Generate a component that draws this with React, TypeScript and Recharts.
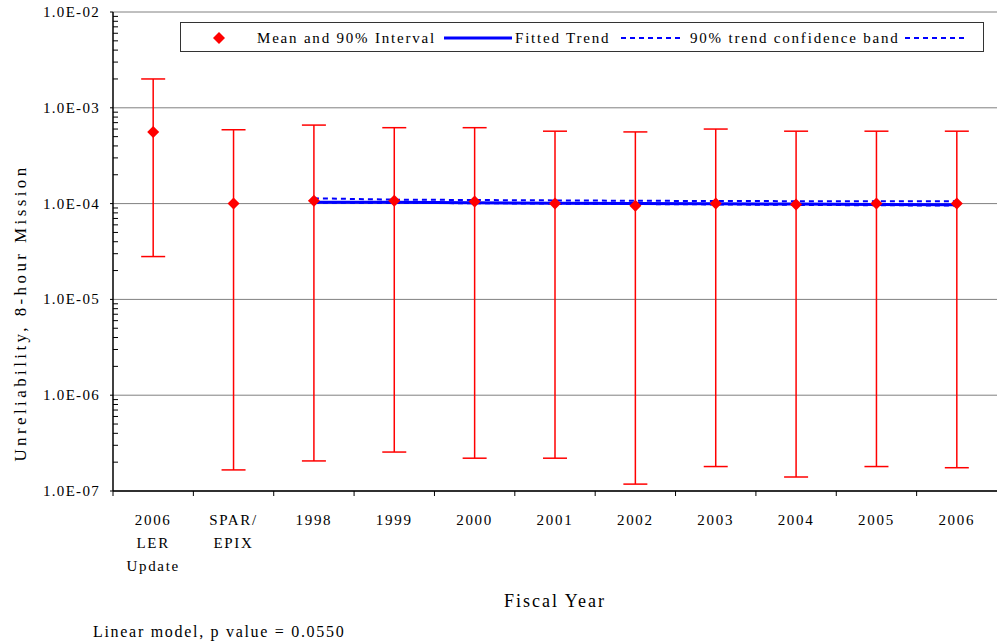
import React from 'react'
import {
  ComposedChart,
  Line,
  ErrorBar,
  XAxis,
  YAxis,
  CartesianGrid,
  Label,
} from 'recharts'

const categories = [
  '2006\nLER\nUpdate',
  'SPAR/\nEPIX',
  '1998',
  '1999',
  '2000',
  '2001',
  '2002',
  '2003',
  '2004',
  '2005',
  '2006',
]
const means = [5.6e-4, 1.0e-4, 1.07e-4, 1.07e-4, 1.05e-4, 1.0e-4, 9.5e-5, 1.0e-4, 9.8e-5, 1.0e-4, 1.0e-4]
const lower = [2.8e-5, 1.66e-7, 2.06e-7, 2.55e-7, 2.2e-7, 2.2e-7, 1.18e-7, 1.8e-7, 1.4e-7, 1.8e-7, 1.75e-7]
const upper = [2.0e-3, 5.9e-4, 6.6e-4, 6.2e-4, 6.2e-4, 5.7e-4, 5.6e-4, 6.0e-4, 5.7e-4, 5.7e-4, 5.7e-4]
const trend = [null, null, 1.035e-4, 1.03e-4, 1.02e-4, 1.01e-4, 1.0e-4, 9.95e-5, 9.9e-5, 9.8e-5, 9.75e-5]
const bandHigh = [null, null, 1.135e-4, 1.1e-4, 1.09e-4, 1.08e-4, 1.07e-4, 1.065e-4, 1.06e-4, 1.06e-4, 1.055e-4]
const bandLow = [null, null, 1.02e-4, 1.015e-4, 1.01e-4, 1.0e-4, 9.9e-5, 9.8e-5, 9.7e-5, 9.6e-5, 9.55e-5]

const yTicks = [1e-7, 1e-6, 1e-5, 1e-4, 1e-3, 1e-2]
const yTickLabels = ['1.0E-07', '1.0E-06', '1.0E-05', '1.0E-04', '1.0E-03', '1.0E-02']
const decades = [1e-7, 1e-6, 1e-5, 1e-4, 1e-3]
const minorSteps = [2, 3, 4, 5, 6, 7, 8, 9]
const minorTicks = decades.flatMap((d) => minorSteps.map((m) => m * d))
const allYTicks = [...yTicks, ...minorTicks]

const data = categories.map((label, i) => ({
  label,
  mean: means[i],
  err: [means[i] - lower[i], upper[i] - means[i]],
  trend: trend[i],
  bandHigh: bandHigh[i],
  bandLow: bandLow[i],
}))

const FONT = '"Liberation Serif", "Times New Roman", serif'
const RED = '#ff0000'
const BLUE = '#0000ff'

function Diamond(props: any) {
  const { cx, cy } = props
  if (cx == null || cy == null) return null
  const r = 6
  return (
    <polygon
      points={`${cx},${cy - r} ${cx + r},${cy} ${cx},${cy + r} ${cx - r},${cy}`}
      fill={RED}
    />
  )
}

function CategoryTick(props: any) {
  const { x, y, payload } = props
  const half = payload?.offset ?? 40
  const lines = String(payload.value).split('\n')
  return (
    <g>
      <line x1={x - half} x2={x - half} y1={y} y2={y + 5} stroke="#000" />
      <text
        x={x}
        y={y + 34}
        textAnchor="middle"
        fontFamily={FONT}
        fontSize={15}
        fill="#000"
        style={{ letterSpacing: 1.7 }}
      >
        {lines.map((ln, i) => (
          <tspan key={i} x={x} dy={i === 0 ? 0 : 23}>
            {ln}
          </tspan>
        ))}
      </text>
    </g>
  )
}

function ValueTick(props: any) {
  const { x, y, payload } = props
  const idx = yTicks.indexOf(payload.value)
  if (idx < 0) {
    return <line x1={x} x2={x + 5} y1={y} y2={y} stroke="#000" />
  }
  return (
    <g>
      <line x1={x - 3} x2={x} y1={y} y2={y} stroke="#000" />
      <text
        x={x - 13}
        y={y}
        dy={5}
        textAnchor="end"
        fontFamily={FONT}
        fontSize={15}
        fill="#000"
        style={{ letterSpacing: 1.3 }}
      >
        {yTickLabels[idx]}
      </text>
    </g>
  )
}

function LegendBox() {
  const text: React.CSSProperties = {
    position: 'absolute',
    top: 6,
    fontFamily: FONT,
    fontSize: 15,
    letterSpacing: 1.8,
    whiteSpace: 'nowrap',
    lineHeight: '18px',
  }
  return (
    <div
      style={{
        position: 'absolute',
        left: 180,
        top: 22,
        width: 804,
        height: 30,
        border: '1px solid #333',
        background: '#fff',
        boxSizing: 'border-box',
      }}
    >
      <svg width={804} height={30} style={{ position: 'absolute', left: -1, top: -1 }}>
        <polygon points="39,10 45,16 39,22 33,16" fill={RED} />
        <line x1={264} x2={332} y1={16} y2={16} stroke={BLUE} strokeWidth={3} />
        <line x1={441} x2={503} y1={16} y2={16} stroke={BLUE} strokeWidth={2} strokeDasharray="5 4" />
        <line x1={725} x2={788} y1={16} y2={16} stroke={BLUE} strokeWidth={2} strokeDasharray="5 4" />
      </svg>
      <span style={{ ...text, left: 76 }}>Mean and 90% Interval</span>
      <span style={{ ...text, left: 334 }}>Fitted Trend</span>
      <span style={{ ...text, left: 509 }}>90% trend confidence band</span>
    </div>
  )
}

export default function App() {
  return (
    <div style={{ position: 'absolute', left: 0, top: 0, width: 997, height: 644, background: '#fff' }}>
      <ComposedChart
        width={997}
        height={644}
        data={data}
        margin={{ top: 12, right: 0, left: 0, bottom: 0 }}
      >
        <CartesianGrid
          horizontal
          vertical={false}
          stroke="#808080"
          yAxisId="main"
          horizontalValues={yTicks}
        />
        <XAxis
          dataKey="label"
          type="category"
          scale="band"
          interval={0}
          height={153}
          tickSize={0}
          tickMargin={0}
          tickLine={false}
          axisLine={{ stroke: '#000', strokeWidth: 1.5 }}
          tick={<CategoryTick />}
        >
          <Label
            content={(p: any) => {
              const vb = p.viewBox || {}
              return (
                <text
                  x={vb.x + vb.width / 2}
                  y={vb.y + 116}
                  textAnchor="middle"
                  fontFamily={FONT}
                  fontSize={18}
                  fill="#000"
                  style={{ letterSpacing: 2 }}
                >
                  Fiscal Year
                </text>
              )
            }}
          />
        </XAxis>
        <YAxis
          yAxisId="main"
          type="number"
          scale="log"
          domain={[1e-7, 1e-2]}
          allowDataOverflow
          ticks={allYTicks}
          interval={0}
          width={113}
          tickSize={0}
          tickMargin={0}
          tickLine={false}
          axisLine={{ stroke: '#000', strokeWidth: 1.5 }}
          tick={<ValueTick />}
        >
          <Label
            content={(p: any) => {
              const vb = p.viewBox || {}
              const cx = vb.x + 26
              const cy = vb.y + 301
              return (
                <text
                  x={cx}
                  y={cy}
                  transform={`rotate(-90 ${cx} ${cy})`}
                  textAnchor="middle"
                  fontFamily={FONT}
                  fontSize={17}
                  fill="#000"
                  style={{ letterSpacing: 3.4 }}
                >
                  Unreliability, 8-hour Mission
                </text>
              )
            }}
          />
        </YAxis>
        <Line
          yAxisId="main"
          dataKey="bandHigh"
          stroke={BLUE}
          strokeWidth={2}
          strokeDasharray="5 4"
          dot={false}
          activeDot={false}
          isAnimationActive={false}
        />
        <Line
          yAxisId="main"
          dataKey="bandLow"
          stroke={BLUE}
          strokeWidth={2}
          strokeDasharray="5 4"
          dot={false}
          activeDot={false}
          isAnimationActive={false}
        />
        <Line
          yAxisId="main"
          dataKey="trend"
          stroke={BLUE}
          strokeWidth={3}
          dot={false}
          activeDot={false}
          isAnimationActive={false}
        />
        <Line
          yAxisId="main"
          dataKey="mean"
          stroke="none"
          strokeWidth={0}
          dot={<Diamond />}
          activeDot={false}
          isAnimationActive={false}
        >
          <ErrorBar dataKey="err" direction="y" width={12} stroke={RED} strokeWidth={1.5} />
        </Line>
      </ComposedChart>
      <LegendBox />
      <div
        style={{
          position: 'absolute',
          left: 93,
          top: 622,
          fontFamily: FONT,
          fontSize: 16,
          letterSpacing: 1.7,
          whiteSpace: 'nowrap',
          lineHeight: '20px',
        }}
      >
        Linear model, p value = 0.0550
      </div>
    </div>
  )
}
